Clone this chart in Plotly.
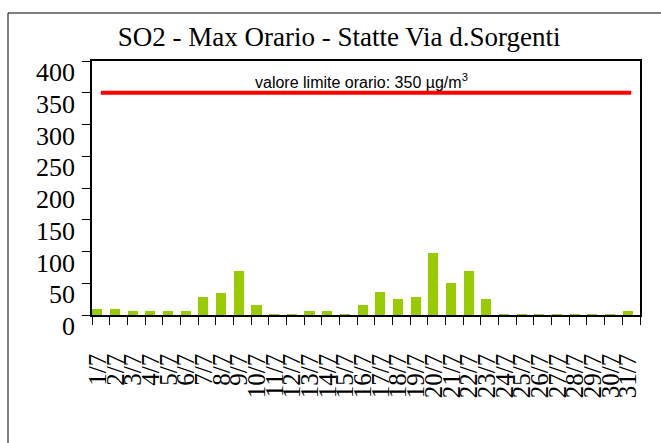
import plotly.graph_objects as go

days = [f"{d}/7" for d in range(1, 32)]
so2_max = [9, 9, 6, 6, 6, 6, 28, 35, 70, 15, 1, 1, 6, 6, 1, 15, 37, 25, 28, 97, 50, 69, 25,
           1, 1, 1, 1, 1, 1, 1, 6]
limit_value = 350
limit = [limit_value] * len(days)
y_ticks = [0, 50, 100, 150, 200, 250, 300, 350, 400]

W, H = 661, 443
L, R, T, B = 92, 640, 61, 315

fig = go.Figure()
fig.add_trace(go.Bar(x=days, y=so2_max, marker_color="#99CC00", marker_line_width=0,
                     width=0.57, offset=-0.48, showlegend=False))
fig.add_trace(go.Scatter(x=days, y=limit, mode="lines", line=dict(color="#FF0000", width=4),
                         showlegend=False))

fig.add_annotation(x=(361 - L) / (R - L), xref="paper", y=limit_value, yref="y",
                   text="valore limite orario: 350 µg/m<sup>3</sup>", showarrow=False,
                   yanchor="bottom", yshift=0,
                   font=dict(family="Liberation Sans", size=16, color="black"))

# outer chart border
fig.add_shape(type="rect", xref="paper", yref="paper",
              x0=(8 - L) / (R - L), x1=(680 - L) / (R - L),
              y0=(B - 460) / (B - T), y1=(B - 13) / (B - T),
              line=dict(color="black", width=1), layer="below")

fig.update_layout(
    width=W, height=H,
    margin=dict(l=L, r=W - R, t=T, b=H - B, pad=0, autoexpand=False),
    paper_bgcolor="white", plot_bgcolor="white",
    title=dict(text="SO2 - Max Orario - Statte Via d.Sorgenti", x=0.513, xref="container",
               xanchor="center", y=1 - 37 / H, yref="container", yanchor="middle",
               font=dict(family="Liberation Serif", size=27, color="black")),
    bargap=0,
)
fig.update_xaxes(type="category", automargin=False, showline=True, linecolor="black",
                 linewidth=1.5, mirror=True,
                 tickmode="linear", tick0=0, dtick=1,
                 ticks="outside", tickson="boundaries", ticklen=8, tickcolor="black",
                 tickangle=-90, ticklabelstandoff=27, ticklabelshift=-3,
                 tickfont=dict(family="Liberation Serif", size=25, color="black"),
                 showgrid=False, range=[-0.5, 30.5])
fig.update_yaxes(range=[0, 400], automargin=False, tickvals=y_ticks, showline=True,
                 linecolor="black", linewidth=1.5,
                 mirror=True, ticks="outside", ticklen=8, tickcolor="black", ticklabelstandoff=2,
                 ticklabelshift=11,
                 tickfont=dict(family="Liberation Serif", size=26, color="black"),
                 showgrid=False, zeroline=False)

fig.write_html("out.html", config={"displayModeBar": False},
               post_script="document.body.style.margin='0';document.body.style.padding='0';")
